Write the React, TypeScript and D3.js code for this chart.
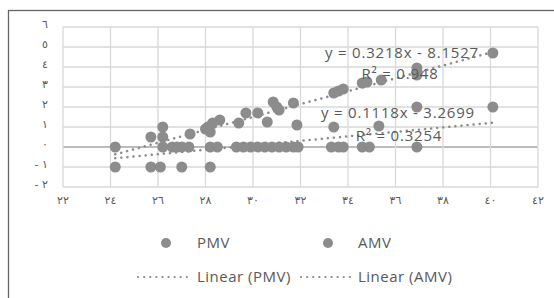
import React from "react";
import * as d3 from "d3";

// thermal comfort votes vs temperature
const xTicks = [22, 24, 26, 28, 30, 32, 34, 36, 38, 40, 42];
const yTicks = [-2, -1, 0, 1, 2, 3, 4, 5, 6];

const pmvX = [24.2, 25.7, 26.2, 26.2, 27.35, 28.0, 28.1, 28.2, 28.3, 28.6, 29.4, 29.7, 30.2, 30.6, 30.85, 31.0, 31.1, 31.7, 33.4, 33.6, 33.8, 34.6, 34.8, 35.4, 36.9, 36.9, 40.1];
const pmvY = [0, 0.5, 1.0, 0.5, 0.65, 0.9, 1.0, 0.75, 1.2, 1.35, 1.2, 1.7, 1.7, 1.25, 2.25, 2.0, 1.85, 2.2, 2.7, 2.8, 2.9, 3.2, 3.25, 3.35, 3.95, 3.6, 4.7];

const amvX = [24.2, 25.7, 26.1, 27.0, 28.2, 26.2, 26.6, 26.8, 27.0, 27.3, 28.2, 28.5, 29.3, 29.6, 29.9, 30.2, 30.5, 30.8, 31.1, 31.4, 31.7, 31.9, 31.85, 33.4, 35.3, 33.3, 33.6, 33.8, 34.6, 34.9, 36.9, 36.9, 40.1];
const amvY = [-1, -1, -1, -1, -1, 0, 0, 0, 0, 0, 0, 0, 0, 0, 0, 0, 0, 0, 0, 0, 0, 0, 1.1, 1, 1.05, 0, 0, 0, 0, 0, 0, 2, 2];

// trendline coefficients (slope, intercept) and labels
const pmvFit = [0.3218, -8.1527];
const amvFit = [0.1118, -3.2699];
const pmvLabel = ["y = 0.3218x - 8.1527", "R² = 0.948"];
const amvLabel = ["y = 0.1118x - 3.2699", "R² = 0.3254"];

const arabicDigits = "٠١٢٣٤٥٦٧٨٩";
const toArabic = (n: number) =>
  String(n).replace(/[0-9]/g, (c) => arabicDigits[+c]);

const W = 554, H = 298;
const margin = { left: 63, right: 16, top: 27, bottom: 111 };

export default function App() {
  const x = d3.scaleLinear().domain([22, 42]).range([margin.left, W - margin.right]);
  const y = d3.scaleLinear().domain([-2, 6]).range([H - margin.bottom, margin.top]);

  const gray = "#8c8c8c";
  const textCol = "#595959";
  const font = "'Open Sans', sans-serif";

  const trend = (xs: number[], fit: number[]) => {
    const x0 = d3.min(xs)!, x1 = d3.max(xs)!;
    return d3.line<number>().x((d) => x(d)).y((d) => y(fit[0] * d + fit[1]))([x0, x1]) || "";
  };

  const dotted = { stroke: gray, strokeWidth: 2.5, strokeDasharray: "0.1 6", strokeLinecap: "round" as const, fill: "none" };

  return (
    <svg width={W} height={H} style={{ position: "absolute", left: 0, top: 0 }}>
      <rect x={0} y={0} width={W} height={H} fill="#fff" />
      <rect x={8.5} y={10.5} width={W + 20} height={H + 20} fill="none" stroke="#666" strokeWidth={1.3} />

      {/* grid */}
      {yTicks.map((t) => (
        <line key={"gy" + t} x1={x(22)} x2={x(42)} y1={y(t)} y2={y(t)}
          stroke={t === 0 ? "#a6a6a6" : "#d9d9d9"} strokeWidth={t === 0 ? 1.6 : 1.3} />
      ))}
      {xTicks.map((t) => (
        <line key={"gx" + t} x1={x(t)} x2={x(t)} y1={y(-2)} y2={y(6)} stroke="#d9d9d9" strokeWidth={1.3} />
      ))}

      {/* axis labels */}
      {yTicks.map((t) => (
        <text key={"ly" + t} x={48} y={y(t) + 1} textAnchor="end" fontSize={11}
          fill={textCol} fontFamily="'DejaVu Sans', sans-serif" direction="ltr">
          {(t < 0 ? "- " : "") + toArabic(Math.abs(t))}
        </text>
      ))}
      {xTicks.map((t) => (
        <text key={"lx" + t} x={x(t)} y={204} textAnchor="middle" fontSize={11}
          fill={textCol} fontFamily="'DejaVu Sans', sans-serif" letterSpacing={1}>
          {toArabic(t)}
        </text>
      ))}

      {/* points */}
      {amvX.map((v, i) => (
        <circle key={"a" + i} cx={x(v)} cy={y(amvY[i])} r={5.5} fill={gray} />
      ))}
      {pmvX.map((v, i) => (
        <circle key={"p" + i} cx={x(v)} cy={y(pmvY[i])} r={5.5} fill={gray} />
      ))}

      {/* trendlines */}
      <path d={trend(pmvX, pmvFit)} {...dotted} />
      <path d={trend(amvX, amvFit)} {...dotted} />

      {/* equations */}
      <g fontFamily={font} fontSize={15} fill={textCol} textAnchor="middle" letterSpacing={0.8}>
        <text x={402} y={57.5}>{pmvLabel[0]}</text>
        <text x={400} y={78.5}>{pmvLabel[1]}</text>
        <text x={398} y={117.5}>{amvLabel[0]}</text>
        <text x={399} y={140.5}>{amvLabel[1]}</text>
      </g>

      {/* legend */}
      <g fontFamily={font} fontSize={15} fill={textCol} letterSpacing={0.5}>
        <circle cx={166} cy={243} r={5} fill={gray} />
        <text x={197} y={248}>PMV</text>
        <circle cx={328} cy={243} r={5} fill={gray} />
        <text x={358} y={248}>AMV</text>
        <line x1={138} x2={188} y1={277} y2={277} {...dotted} strokeWidth={2.2} />
        <text x={197} y={282}>Linear (PMV)</text>
        <line x1={301} x2={351} y1={277} y2={277} {...dotted} strokeWidth={2.2} />
        <text x={358} y={282}>Linear (AMV)</text>
      </g>
    </svg>
  );
}
